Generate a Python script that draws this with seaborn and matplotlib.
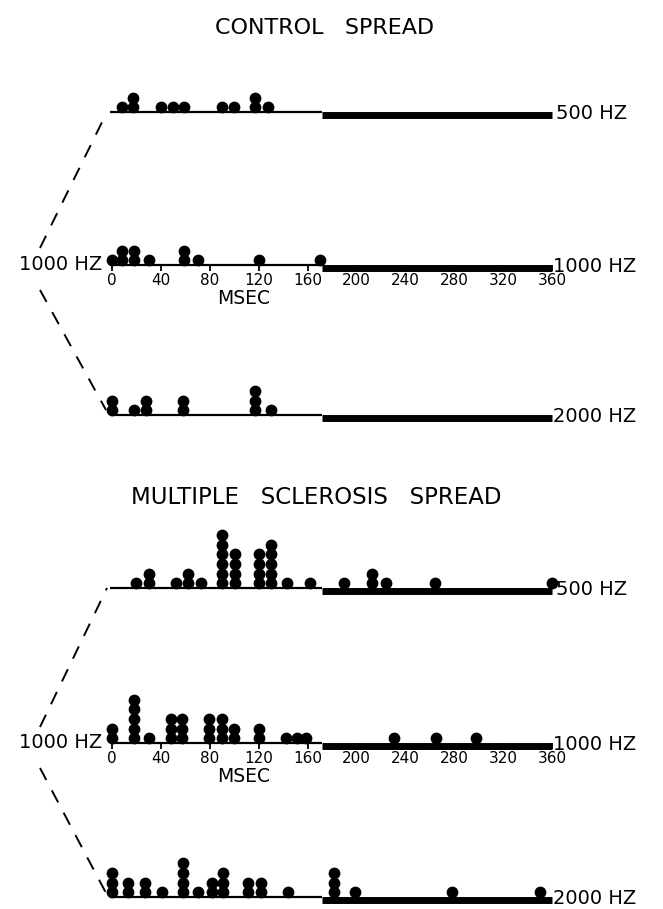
import pandas as pd
import matplotlib
matplotlib.use("Agg")
import matplotlib.pyplot as plt
from matplotlib.lines import Line2D
import seaborn as sns


# Latency values (msec), with how many dots are stacked at each

ctrl_500_ms = [8, 17, 40, 50, 59, 90, 100, 117, 128]
ctrl_500_n = [1, 2, 1, 1, 1, 1, 1, 2, 1]

ctrl_1000_ms = [0, 8, 18, 30, 59, 70, 120, 170]
ctrl_1000_n = [1, 2, 2, 1, 2, 1, 1, 1]

ctrl_2000_ms = [0, 18, 28, 58, 117, 130]
ctrl_2000_n = [2, 1, 2, 2, 3, 1]

ms_500_ms = [20, 30, 52, 62, 73, 90, 101, 120, 130, 143, 162, 190, 213, 224, 264, 360]
ms_500_n = [1, 2, 1, 2, 1, 6, 4, 4, 5, 1, 1, 1, 2, 1, 1, 1]

ms_1000_ms = [0, 18, 30, 48, 57, 79, 90, 100, 120, 142, 151, 159, 231, 265, 298]
ms_1000_n = [2, 5, 1, 3, 3, 3, 3, 2, 2, 1, 1, 1, 1, 1, 1]

ms_2000_ms = [0, 13, 27, 41, 58, 70, 82, 91, 111, 122, 144, 182, 199, 278, 350]
ms_2000_n = [3, 2, 2, 1, 4, 1, 2, 3, 2, 2, 1, 3, 1, 1, 1]

row_labels = ["500 HZ", "1000 HZ", "2000 HZ"]
tick_values = list(range(0, 361, 40))
thick_start = 172
axis_end = 360


# Layout (pixels)

W, H = 663, 909
x0_px = 112          # where 0 msec sits
px_per_ms = 1.222
step = 9.6           # vertical spacing of stacked dots
baselines = [112, 265, 415, 588, 743, 897]


def stack(ms, n):
    rows = []
    for m, c in zip(ms, n):
        for k in range(c):
            rows.append({"ms": m, "level": k + 0.5})
    return pd.DataFrame(rows)


sns.set_theme(style="white")
plt.rcParams["font.family"] = ["DejaVu Sans"]
plt.rcParams["text.color"] = "black"
plt.rcParams["xtick.color"] = "black"
plt.rcParams["xtick.labelcolor"] = "black"

fig = plt.figure(figsize=(W / 100, H / 100), dpi=100)

panels = [
    (ctrl_500_ms, ctrl_500_n), (ctrl_1000_ms, ctrl_1000_n), (ctrl_2000_ms, ctrl_2000_n),
    (ms_500_ms, ms_500_n), (ms_1000_ms, ms_1000_n), (ms_2000_ms, ms_2000_n),
]

ax_h = 70
for i, (ms, n) in enumerate(panels):
    base = baselines[i]
    ax = fig.add_axes([0, (H - base) / H, 1, ax_h / H])
    ax.set_xlim(-x0_px / px_per_ms, (W - x0_px) / px_per_ms)
    ax.set_ylim(0, ax_h / step)
    ax.patch.set_alpha(0)
    for s in ax.spines.values():
        s.set_visible(False)

    df = stack(ms, n)
    sns.scatterplot(data=df, x="ms", y="level", ax=ax, color="black", s=72,
                    linewidth=0, legend=False, clip_on=False, zorder=3)

    # thin line then heavy bar
    ax.plot([-2, thick_start], [0, 0], color="black", lw=1.6, clip_on=False,
            solid_capstyle="butt")
    ax.plot([thick_start, axis_end], [-3.0 / step, -3.0 / step], color="black",
            lw=5.0, clip_on=False, solid_capstyle="butt")

    label = row_labels[i % 3]
    xr = axis_end + (4 if i % 3 == 0 else 1) / px_per_ms
    ax.text(xr, -1.5 / step, label, fontsize=14, va="center", ha="left")

    ax.set_xlabel("")
    ax.set_ylabel("")
    ax.set_yticks([])
    if i % 3 == 1:
        ax.set_xticks(tick_values)
        ax.set_xticklabels([str(t) for t in tick_values], fontsize=11)
        ax.tick_params(axis="x", direction="out", length=4, width=1.3,
                       pad=2, colors="black", bottom=True)
        ax.text(108, -3.5, "MSEC", fontsize=13.5, ha="center", va="center")
        ax.text(-10 / px_per_ms, 0.1, "1000 HZ", fontsize=14, ha="right",
                va="center")
    else:
        ax.set_xticks([])


# Titles
fig.text(325 / W, 1 - 28 / H, "CONTROL   SPREAD", fontsize=16, ha="center",
         va="center")
fig.text(316 / W, 1 - 497 / H, "MULTIPLE   SCLEROSIS   SPREAD", fontsize=16.5,
         ha="center", va="center")

# Dashed connectors from the left 1000 HZ label
connectors = [
    ((40, 248), (107, 112)), ((40, 290), (106, 410)),
    ((40, 727), (107, 588)), ((40, 768), (106, 893)),
]
for (xa, ya), (xb, yb) in connectors:
    fig.add_artist(Line2D([xa / W, xb / W], [1 - ya / H, 1 - yb / H],
                          transform=fig.transFigure, color="black", lw=1.4,
                          linestyle=(0, (7, 6))))

plt.savefig("out.png", dpi=100, facecolor="white")
